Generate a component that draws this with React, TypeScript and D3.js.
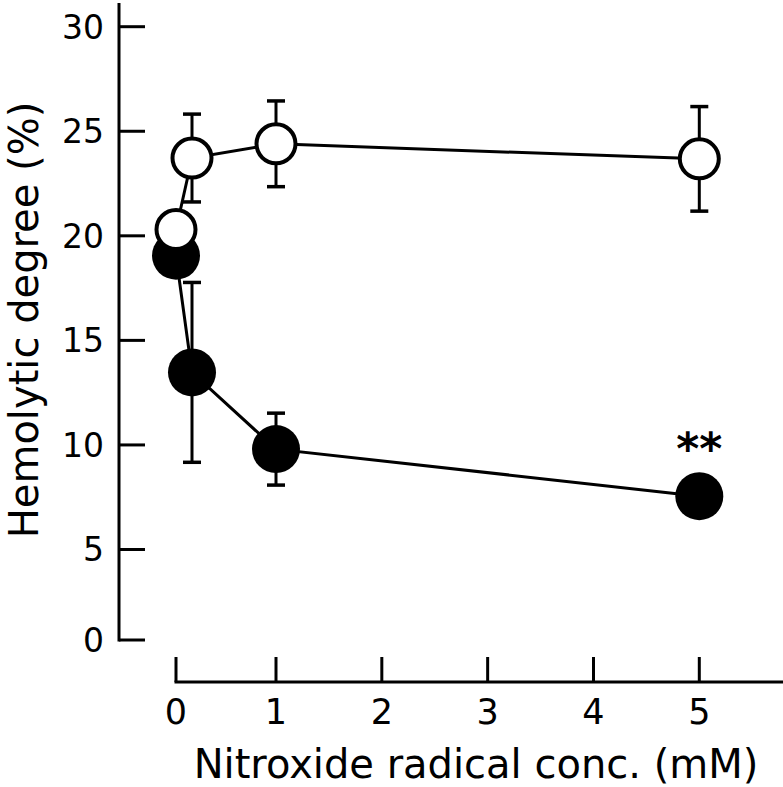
import React from "react";
import * as d3 from "d3";

const xTicks = [0, 1, 2, 3, 4, 5];
const yTicks = [0, 5, 10, 15, 20, 25, 30];

const concs = [0, 0.16, 1, 5];
const controlMean = [20.3, 23.72, 24.4, 23.68];
const controlErr = [0, 2.1, 2.05, 2.5];
const treatedMean = [19.05, 13.47, 9.8, 7.55];
const treatedErr = [0, 4.3, 1.72, 0];

const xTitle = "Nitroxide radical conc. (mM)";
const yTitle = "Hemolytic degree (%)";
const sigLabel = "**";

const W = 783;
const H = 787;
const FONT = "'DejaVu Sans', Verdana, sans-serif";

export default function App() {
  const x = d3.scaleLinear().domain([0, 1, 5]).range([176, 276, 699.3]);
  const y = d3.scaleLinear().domain([0, 5, 30]).range([640, 549.5, 26.7]);

  const line = d3
    .line<number>()
    .x((_, i) => x(concs[i]))
    .y((d) => y(d));

  const yAxisX = 119;
  const xAxisY = 682;
  const capW = 9;

  const errBars = (means: number[], errs: number[], key: string) =>
    means.map((m, i) =>
      errs[i] > 0 ? (
        <g key={key + i} stroke="#000" strokeWidth={3}>
          <line x1={x(concs[i])} x2={x(concs[i])} y1={y(m - errs[i])} y2={y(m + errs[i])} />
          <line x1={x(concs[i]) - capW} x2={x(concs[i]) + capW} y1={y(m + errs[i])} y2={y(m + errs[i])} strokeWidth={3.5} />
          <line x1={x(concs[i]) - capW} x2={x(concs[i]) + capW} y1={y(m - errs[i])} y2={y(m - errs[i])} strokeWidth={3.5} />
        </g>
      ) : null
    );

  return (
    <svg
      width={W}
      height={H}
      style={{ position: "absolute", left: 0, top: 0, background: "#fff" }}
      fontFamily={FONT}
    >
      <rect x={0} y={0} width={W} height={H} fill="#fff" />
      {/* Y axis */}
      <line x1={yAxisX} x2={yAxisX} y1={3} y2={y(0) + 1.5} stroke="#000" strokeWidth={3} />
      {yTicks.map((t) => (
        <g key={"yt" + t}>
          <line x1={yAxisX} x2={145} y1={y(t)} y2={y(t)} stroke="#000" strokeWidth={3} />
          <text x={104} y={y(t)} dy="0.36em" textAnchor="end" fontSize={33} fill="#000">
            {t}
          </text>
        </g>
      ))}
      {/* X axis */}
      <line x1={x(0) - 1.5} x2={W} y1={xAxisY} y2={xAxisY} stroke="#000" strokeWidth={3} />
      {xTicks.map((t) => (
        <g key={"xt" + t}>
          <line x1={x(t)} x2={x(t)} y1={657} y2={xAxisY} stroke="#000" strokeWidth={3} />
          <text x={x(t)} y={724} textAnchor="middle" fontSize={35} fill="#000">
            {t}
          </text>
        </g>
      ))}
      {/* Titles */}
      <text x={476} y={778} textAnchor="middle" fontSize={40} fill="#000">
        {xTitle}
      </text>
      <text
        transform={`translate(37.5,320) rotate(-90)`}
        textAnchor="middle"
        fontSize={40}
        fill="#000"
      >
        {yTitle}
      </text>

      {/* Treated (filled) */}
      {errBars(treatedMean, treatedErr, "te")}
      <path d={line(treatedMean) || ""} fill="none" stroke="#000" strokeWidth={3} />
      {treatedMean.map((m, i) => (
        <circle key={"tc" + i} cx={x(concs[i])} cy={y(m)} r={24} fill="#000" />
      ))}

      {/* Control (open) */}
      {errBars(controlMean, controlErr, "ce")}
      <path d={line(controlMean) || ""} fill="none" stroke="#000" strokeWidth={3} />
      {controlMean.map((m, i) => (
        <circle key={"cc" + i} cx={x(concs[i])} cy={y(m)} r={19.5} fill="#fff" stroke="#000" strokeWidth={4} />
      ))}

      {/* Significance */}
      <text
        x={x(concs[3])}
        y={y(treatedMean[3]) - 32}
        textAnchor="middle"
        fontSize={44}
        fontWeight="bold"
        fill="#000"
      >
        {sigLabel}
      </text>
    </svg>
  );
}
